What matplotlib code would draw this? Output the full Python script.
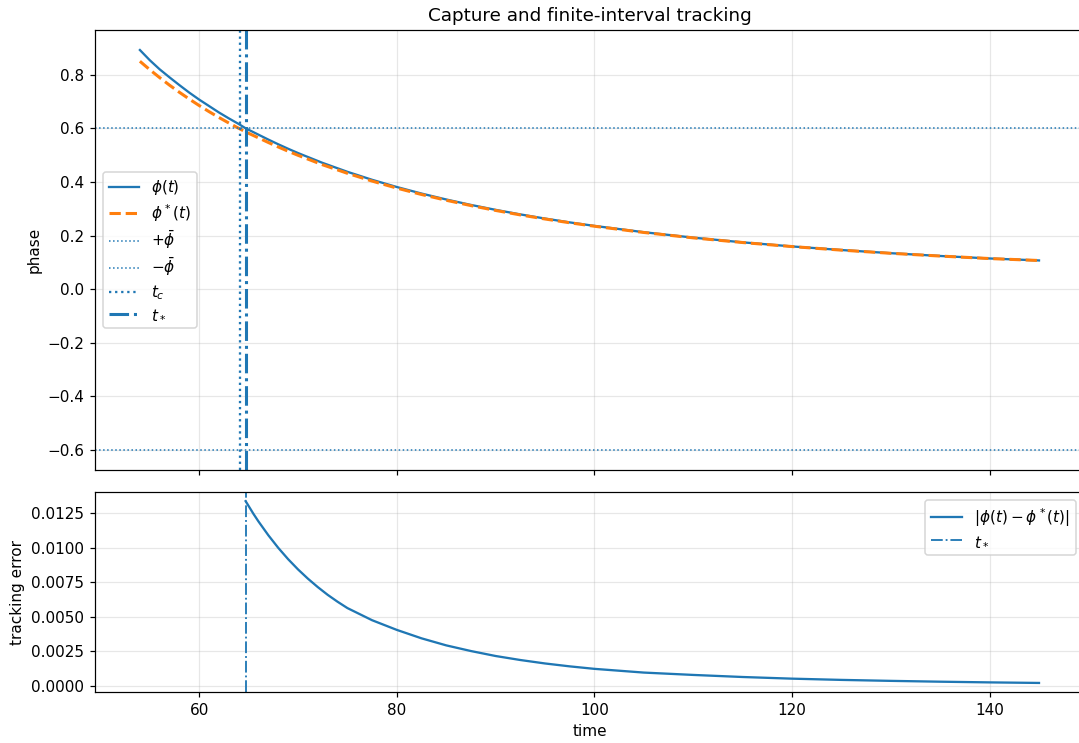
import numpy as np
import matplotlib
matplotlib.use("Agg")
import matplotlib.pyplot as plt

# ── Data ──────────────────────────────────────────────────────────────────────

t_phase  = [54, 55, 56, 57, 58, 59, 60, 61, 62, 63, 64, 64.7, 66, 67, 68,
            69, 70, 72.5, 75, 77.5, 80, 82.5, 85, 87.5, 90, 92.5, 95, 97.5,
            100, 105, 110, 115, 120, 125, 130, 135, 140, 145]
phi      = [0.892, 0.854, 0.820, 0.790, 0.761, 0.733, 0.707, 0.683, 0.659,
            0.637, 0.616, 0.600, 0.5762, 0.5579, 0.5404, 0.5237, 0.5077,
            0.4708, 0.4377, 0.4079, 0.3810, 0.3566, 0.3345, 0.3142, 0.2958,
            0.2788, 0.2633, 0.2490, 0.2359, 0.2124, 0.1921, 0.1746, 0.1593,
            0.1459, 0.1341, 0.1237, 0.1144, 0.1070]
phi_star = [0.850, 0.8186, 0.7890, 0.7608, 0.7342, 0.7089, 0.6849, 0.6621,
            0.6403, 0.6197, 0.6000, 0.5866, 0.5643, 0.5470, 0.5304, 0.5145,
            0.4993, 0.4638, 0.4321, 0.4031, 0.3769, 0.3531, 0.3316, 0.3117,
            0.2936, 0.2769, 0.2617, 0.2476, 0.2347, 0.2114, 0.1913, 0.1739,
            0.1588, 0.1455, 0.1337, 0.1234, 0.1141, 0.1068]

t_err = [64.7, 65.5, 66, 67, 68, 69, 70, 71, 72, 73, 74, 75, 77.5, 80,
         82.5, 85, 87.5, 90, 92.5, 95, 97.5, 100, 105, 110, 115, 120, 125,
         130, 135, 140, 145]
err   = [0.01338, 0.01245, 0.01191, 0.01091, 0.01000, 0.00918, 0.00844,
         0.00777, 0.00716, 0.00660, 0.00610, 0.00564, 0.00476, 0.00406,
         0.00345, 0.00294, 0.00253, 0.00217, 0.00188, 0.00163, 0.00142,
         0.00124, 0.00097, 0.00080, 0.00065, 0.00053, 0.00044, 0.00037,
         0.00031, 0.00026, 0.00022]

phi_bar = 0.6
t_c     = 64.1
t_star  = 64.7

# ── Plot ──────────────────────────────────────────────────────────────────────

DPI = 110
fig = plt.figure(figsize=(1079 / DPI, 743 / DPI), dpi=DPI)
# right edge sits just past the image border, as in the cropped original
gs  = fig.add_gridspec(2, 1, height_ratios=[2.2, 1], hspace=0.069,
                       left=0.088, right=1.0046, top=0.9596, bottom=0.0686)
ax1 = fig.add_subplot(gs[0])
ax2 = fig.add_subplot(gs[1], sharex=ax1)

ax1.plot(t_phase, phi, color="C0", lw=1.5, label=r"$\phi(t)$")
ax1.plot(t_phase, phi_star, color="C1", lw=2, ls="--", label=r"$\phi^*(t)$")
ax1.axhline(phi_bar,  color="C0", lw=1, ls=":", label=r"$+\bar{\phi}$")
ax1.axhline(-phi_bar, color="C0", lw=1, ls=":", label=r"$-\bar{\phi}$")
ax1.axvline(t_c,    color="C0", lw=1.5, ls=":",  label=r"$t_c$")
ax1.axvline(t_star, color="C0", lw=2,   ls="-.", label=r"$t_*$")
ax1.set_ylabel("phase")
ax1.set_title("Capture and finite-interval tracking")
ax1.grid(True, alpha=0.3)
ax1.legend(loc="center left", labelspacing=0.33)
plt.setp(ax1.get_xticklabels(), visible=False)

ax2.plot(t_err, err, color="C0", lw=1.5, label=r"$|\phi(t)-\phi^*(t)|$")
ax2.axvline(t_star, color="C0", lw=1.2, ls="-.", label=r"$t_*$")
ax2.set_xlabel("time")
ax2.set_ylabel("tracking error")
ax2.grid(True, alpha=0.3)
ax2.legend(loc="upper right", labelspacing=0.33)

fig.savefig("out.png", dpi=DPI)
